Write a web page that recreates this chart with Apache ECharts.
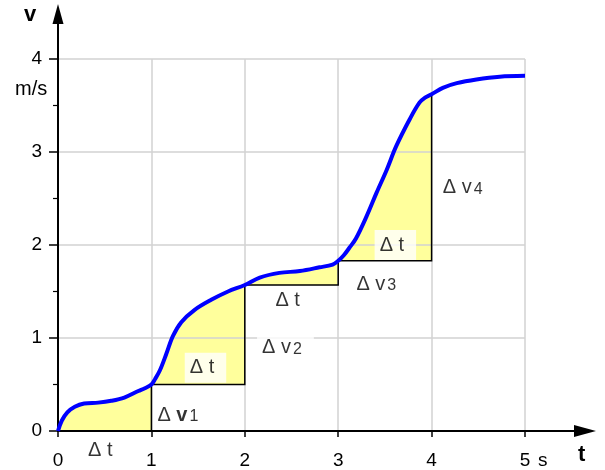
<!DOCTYPE html>
<html><head><meta charset="utf-8">
<script src="https://cdn.jsdelivr.net/npm/echarts@6/dist/echarts.min.js"></script>
<style>html,body{margin:0;padding:0;background:#fff}#c{width:605px;height:470px}</style>
</head><body><div id="c"></div>
<script>
// velocity curve v(t)
const curveT = [0, 0.04, 0.1, 0.18, 0.28, 0.43, 0.57, 0.71, 0.86, 0.93, 1.0, 1.04, 1.09, 1.16, 1.23, 1.32, 1.46, 1.64, 1.82, 2.0, 2.16, 2.37, 2.59, 2.8, 2.94, 3.0, 3.06, 3.12, 3.19, 3.3, 3.41, 3.52, 3.62, 3.77, 3.87, 3.93, 4.0, 4.12, 4.27, 4.48, 4.73, 5.0];
const curveV = [0, 0.11, 0.2, 0.26, 0.295, 0.305, 0.325, 0.36, 0.43, 0.46, 0.5, 0.56, 0.65, 0.83, 1.02, 1.17, 1.30, 1.41, 1.50, 1.57, 1.65, 1.70, 1.72, 1.76, 1.79, 1.83, 1.89, 1.97, 2.07, 2.30, 2.56, 2.81, 3.06, 3.36, 3.53, 3.585, 3.62, 3.69, 3.74, 3.78, 3.81, 3.82];
// step points (t_i, v(t_i))
const stepT = [0, 1, 2, 3, 4];
const stepV = [0, 0.5, 1.57, 1.83, 3.62];
// tick labels
const xTickLabels = ['0', '1', '2', '3', '4', '5'];
const yTickLabels = ['0', '1', '2', '3', '4'];
// annotations without box
const plainT = [0.321, 1.064, 2.328, 3.195, 4.12];
const plainV = [-0.205, 0.172, 1.40, 1.58, 2.614];
const plainText = ['{a|Δ t}', '{a|Δ }{b|v}{s|1}', '{a|Δ t}', '{a|Δ v}{s|3}', '{a|Δ v}{s|4}'];
// annotations on white box
const boxT = [1.357, 2.131, 3.39];
const boxV = [0.68, 0.896, 2.0];
const boxText = ['{a|Δ t}', '{a|Δ v}{s|2}', '{a|Δ t}'];

const FONT = 'Liberation Sans, Arial, sans-serif';
const rich = {
  a: {fontSize: 20, fontFamily: FONT, color: '#000', lineHeight: 20, verticalAlign: 'top'},
  b: {fontSize: 20, fontFamily: FONT, fontWeight: 'bold', color: '#000', lineHeight: 20, verticalAlign: 'top'},
  s: {fontSize: 16, fontFamily: FONT, color: '#000', lineHeight: 16, padding: [10, 0, 0, 2], verticalAlign: 'bottom'}
};

const curveData = curveT.map((t, i) => [t, curveV[i]]);
const intervals = [];
for (let i = 0; i < stepT.length - 1; i++) intervals.push([stepT[i], stepT[i + 1], stepV[i], stepV[i + 1]]);

const chart = echarts.init(document.getElementById('c'), null, {renderer: 'canvas'});
const option = {
  animation: false,
  backgroundColor: '#fff',
  grid: [
    {left: 58, top: 59, width: 467, height: 372},
    {left: 58, top: 14, width: 527, height: 417}
  ],
  xAxis: [
    {type: 'value', gridIndex: 0, min: 0, max: 5, interval: 1,
      axisLine: {show: false},
      axisTick: {show: true, length: 6, lineStyle: {color: '#000', width: 1.5}},
      axisLabel: {margin: 20, fontSize: 19, fontFamily: FONT, color: '#000',
        formatter: v => xTickLabels[Math.round(v)]},
      splitLine: {show: true, lineStyle: {color: '#d2d2d2', width: 1.5}}},
    {type: 'value', gridIndex: 1, min: 0, max: 1, z: 10,
      axisLine: {show: true, lineStyle: {color: '#000', width: 2}, symbol: ['none', 'triangle'], symbolSize: [12, 22]},
      axisTick: {show: false}, axisLabel: {show: false}, splitLine: {show: false}}
  ],
  yAxis: [
    {type: 'value', gridIndex: 0, min: 0, max: 4, interval: 1,
      axisLine: {show: false},
      axisTick: {show: true, length: 9, lineStyle: {color: '#000', width: 1.5}},
      minorTick: {show: true, splitNumber: 2, length: 5, lineStyle: {color: '#000', width: 1.2}},
      axisLabel: {margin: 16, fontSize: 19, fontFamily: FONT, color: '#000',
        formatter: v => yTickLabels[Math.round(v)]},
      splitLine: {show: true, lineStyle: {color: '#d2d2d2', width: 1.5}}},
    {type: 'value', gridIndex: 1, min: 0, max: 1, z: 10,
      axisLine: {show: true, lineStyle: {color: '#000', width: 2}, symbol: ['none', 'triangle'], symbolSize: [11, 20]},
      axisTick: {show: false}, axisLabel: {show: false}, splitLine: {show: false}}
  ],
  graphic: [
    {type: 'text', left: 24, top: 4, style: {text: 'v', font: 'bold 22px ' + FONT, fill: '#000'}},
    {type: 'text', left: 578, top: 444, style: {text: 't', font: 'bold 22px ' + FONT, fill: '#000'}},
    {type: 'text', left: 15, top: 79, style: {text: 'm/s', font: '20px ' + FONT, fill: '#000'}},
    {type: 'text', left: 538, top: 451, style: {text: 's', font: '19px ' + FONT, fill: '#000'}}
  ],
  series: [
    {type: 'custom', name: 'fill', xAxisIndex: 0, yAxisIndex: 0, z: -1, silent: true,
      data: intervals, encode: {x: [0, 1], y: [2, 3]},
      renderItem: function (params, api) {
        const t0 = api.value(0), t1 = api.value(1), base = api.value(2);
        const pts = [];
        for (let k = 0; k < curveT.length; k++) {
          if (curveT[k] >= t0 - 1e-9 && curveT[k] <= t1 + 1e-9) pts.push(api.coord([curveT[k], curveV[k]]));
        }
        pts.push(api.coord([t1, base]));
        pts.push(api.coord([t0, base]));
        return {type: 'polygon', shape: {points: pts}, style: {fill: '#ffff9c', stroke: null}};
      }},
    {type: 'custom', name: 'steps', xAxisIndex: 0, yAxisIndex: 0, z: 3, silent: true,
      data: intervals, encode: {x: [0, 1], y: [2, 3]},
      renderItem: function (params, api) {
        const t0 = api.value(0), t1 = api.value(1), b0 = api.value(2), b1 = api.value(3);
        return {type: 'polyline', shape: {points: [api.coord([t0, b0]), api.coord([t1, b0]), api.coord([t1, b1])]},
          style: {stroke: '#000', lineWidth: 1.5, fill: null}};
      }},
    {type: 'line', name: 'v', xAxisIndex: 0, yAxisIndex: 0, z: 12, data: curveData,
      smooth: 0.35, showSymbol: false, silent: true,
      lineStyle: {color: '#0000ff', width: 4}},
    {type: 'scatter', name: 'plainLabels', xAxisIndex: 0, yAxisIndex: 0, z: 13, clip: false, silent: true,
      symbolSize: 0,
      data: plainT.map((t, i) => ({value: [t, plainV[i]], name: plainText[i]})),
      label: {show: true, position: [0, 0], align: 'left', verticalAlign: 'middle',
        formatter: p => p.name, rich: rich}},
    {type: 'scatter', name: 'boxLabels', xAxisIndex: 0, yAxisIndex: 0, z: 13, clip: false, silent: true,
      symbolSize: 0,
      data: boxT.map((t, i) => ({value: [t, boxV[i]], name: boxText[i]})),
      label: {show: true, position: [0, 0], align: 'left', verticalAlign: 'middle',
        backgroundColor: '#fff', padding: [5, 12, 5, 5],
        formatter: p => p.name, rich: rich}}
  ]
};
chart.setOption(option);
</script>
</body></html>
